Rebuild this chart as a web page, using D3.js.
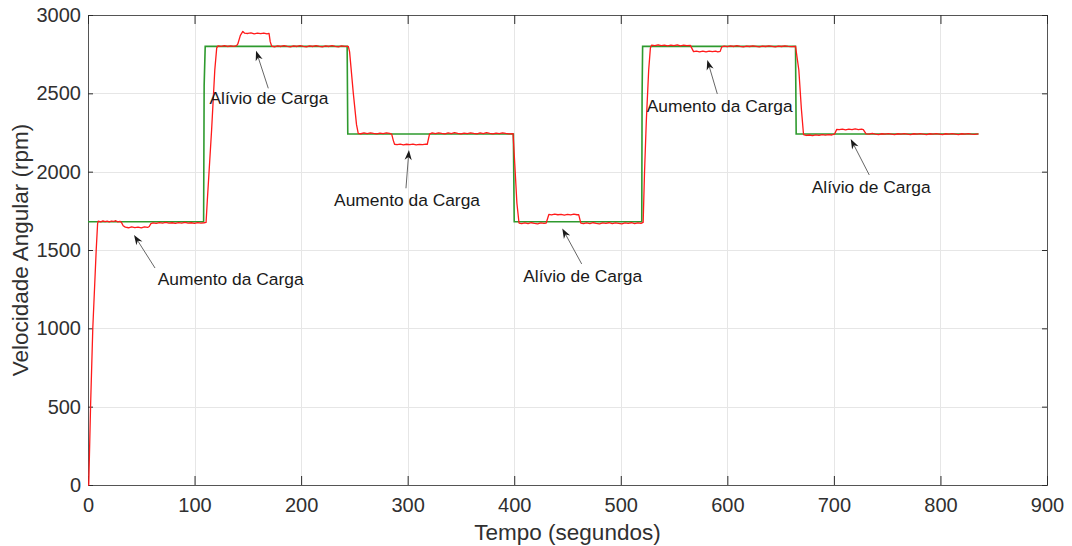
<!DOCTYPE html>
<html>
<head>
<meta charset="utf-8">
<script src="https://cdn.jsdelivr.net/npm/d3@7"></script>
<style>
  html, body { margin: 0; padding: 0; background: #fff; }
  svg { display: block; font-family: "Liberation Sans", Arial, Helvetica, sans-serif; }
</style>
</head>
<body>
<svg id="chart" width="1072" height="546"></svg>
<script>
// Axis ticks
const xTicks = [0, 100, 200, 300, 400, 500, 600, 700, 800, 900];
const yTicks = [0, 500, 1000, 1500, 2000, 2500, 3000];

// Reference speed (setpoint), [time s, rpm]
const referencia = [
  [0, 1680], [108.5, 1680], [109, 2550], [110, 2800],
  [243.2, 2800], [243.8, 2240],
  [399.2, 2240], [399.6, 1960], [400, 1680],
  [519.7, 1680], [520, 2480], [520.5, 2800],
  [664, 2800], [664.2, 2600], [664.6, 2240],
  [835.7, 2240]
];

// Measured speed, [time s, rpm]
const velocidade = [
  [0, 0], [0.7, 0], [2.4, 500], [4.5, 1000], [7.7, 1500], [9.0, 1668], [9.6, 1684],
  [12, 1680], [14, 1686], [16, 1681], [18, 1684], [20, 1679], [22, 1685], [24, 1682], [26, 1687], [28, 1680], [30, 1683],
  [31.5, 1675], [33, 1655], [35, 1646], [38, 1642], [41, 1648], [44, 1643], [47, 1646], [50, 1641], [53, 1647], [56, 1644], [57.5, 1650],
  [59, 1668], [61, 1673], [64, 1670], [67, 1675], [70, 1672], [73, 1676], [76, 1671], [79, 1674], [82, 1670], [85, 1675], [88, 1672],
  [91, 1676], [94, 1671], [97, 1674], [100, 1670], [103, 1675], [106, 1672], [109, 1674], [110.8, 1676],
  [112, 1819], [116, 2266], [119, 2650], [120.8, 2790], [122, 2803], [125, 2800], [128, 2805], [131, 2799], [134, 2803], [137, 2800], [139.5, 2804],
  [140.6, 2815], [143, 2870], [145.3, 2895], [147, 2884], [150, 2882], [153, 2886], [156, 2880], [159, 2884], [162, 2881], [165, 2885], [168, 2880], [169.9, 2883],
  [171, 2830], [172.4, 2801], [175, 2797], [178, 2803], [181, 2799], [184, 2805], [187, 2800], [190, 2796], [193, 2803], [196, 2799], [199, 2804],
  [202, 2800], [205, 2797], [208, 2803], [211, 2799], [214, 2805], [217, 2800], [220, 2797], [223, 2803], [226, 2799], [229, 2804], [232, 2800],
  [235, 2797], [238, 2803], [241, 2800], [244.3, 2800],
  [245.5, 2765], [249, 2500], [252, 2300], [253.6, 2245], [256, 2242], [259, 2247], [262, 2243], [265, 2248], [268, 2244], [271, 2241], [274, 2246],
  [277, 2243], [280, 2248], [283, 2244], [285, 2240],
  [286.5, 2200], [287.7, 2175], [290, 2172], [293, 2176], [296, 2171], [299, 2175], [302, 2172], [305, 2176], [308, 2171], [311, 2174], [314, 2172],
  [317, 2176], [318.4, 2175], [320.5, 2240], [323, 2247], [326, 2243], [329, 2248], [332, 2244], [335, 2241], [338, 2247], [341, 2243], [344, 2249],
  [347, 2244], [350, 2241], [353, 2246], [356, 2243], [359, 2248], [362, 2244], [365, 2241], [368, 2247], [371, 2243], [374, 2249], [377, 2244],
  [380, 2241], [383, 2246], [386, 2243], [389, 2248], [392, 2244], [395, 2241], [398.9, 2243],
  [400.5, 2050], [402.5, 1800], [404.5, 1672], [407, 1668], [410, 1673], [413, 1669], [416, 1674], [419, 1670], [422, 1667], [425, 1673], [428, 1670], [430, 1672],
  [432.5, 1727], [435, 1724], [438, 1729], [441, 1725], [444, 1728], [447, 1723], [450, 1727], [453, 1724], [456, 1729], [459, 1725], [460.5, 1726],
  [462.5, 1672], [465, 1668], [468, 1673], [471, 1669], [474, 1674], [477, 1670], [480, 1667], [483, 1673], [486, 1670], [489, 1674], [492, 1669],
  [495, 1673], [498, 1670], [501, 1667], [504, 1673], [507, 1670], [510, 1674], [513, 1669], [516, 1673], [519, 1670], [521, 1676],
  [522.3, 2000], [524, 2330], [526.2, 2650], [527.8, 2790], [529, 2808], [532, 2805], [535, 2810], [538, 2804], [541, 2808], [544, 2803], [547, 2807],
  [550, 2804], [553, 2809], [556, 2803], [559, 2807], [562, 2804], [565.3, 2806],
  [568.3, 2766], [571, 2770], [574, 2765], [577, 2769], [580, 2764], [583, 2770], [586, 2766], [589, 2769], [591, 2765], [593.3, 2768],
  [594.8, 2797], [597, 2801], [600, 2798], [603, 2803], [606, 2799], [609, 2804], [612, 2800], [615, 2797], [618, 2802], [621, 2799], [624, 2803],
  [627, 2800], [630, 2797], [633, 2802], [636, 2799], [639, 2803], [642, 2800], [645, 2797], [648, 2802], [651, 2799], [654, 2803], [657, 2800],
  [660, 2798], [664, 2800],
  [667.1, 2649], [669.5, 2400], [671.5, 2237], [674, 2231], [677, 2234], [680, 2230], [683, 2235], [686, 2232], [689, 2236], [692, 2233], [695, 2237],
  [698, 2234], [700.6, 2240],
  [702.7, 2270], [705, 2268], [708, 2272], [711, 2267], [714, 2271], [717, 2268], [720, 2273], [723, 2269], [726, 2271], [727.6, 2268],
  [730.2, 2241], [733, 2239], [736, 2244], [739, 2240], [742, 2237], [745, 2242], [748, 2239], [751, 2243], [754, 2240], [757, 2237], [760, 2242],
  [763, 2239], [766, 2243], [769, 2240], [772, 2237], [775, 2242], [778, 2239], [781, 2243], [784, 2240], [787, 2237], [790, 2242], [793, 2239],
  [796, 2243], [799, 2240], [802, 2237], [805, 2242], [808, 2239], [811, 2243], [814, 2240], [817, 2237], [820, 2242], [823, 2239], [826, 2243],
  [829, 2240], [832, 2238], [835.7, 2241]
];

// Load-change annotations: label, arrow tip, arrow tail, text anchor (data units)
const anotacoesTexto = ["Aumento da Carga", "Alívio de Carga", "Aumento da Carga", "Alívio de Carga", "Aumento da Carga", "Alívio de Carga"];
const anotacoesPonta = [[43.2, 1596], [157.7, 2772], [301.2, 2138], [445.1, 1638], [581.2, 2713], [715.8, 2209]];
const anotacoesCauda = [[62.9, 1385], [169.2, 2532], [298.4, 1894], [463.3, 1411], [590.6, 2496], [733.2, 1979]];
const anotacoesPos   = [[65.4, 1277], [114.0, 2430], [230.9, 1781], [408.5, 1298], [524.3, 2383], [679.2, 1862]];

const svg = d3.select("#chart");
const mLeft = 88, mRight = 1047, mTop = 15, mBottom = 485;

const x = d3.scaleLinear().domain([0, 900]).range([mLeft, mRight]);
const y = d3.scaleLinear().domain([0, 3000]).range([mBottom, mTop]);

const axisColor = "#2b2b2b";
const textColor = "#303030";

// Grid
const grid = svg.append("g");
grid.selectAll("line.gx").data(xTicks.slice(1, -1)).join("line")
  .attr("x1", d => Math.round(x(d)) + 0.5).attr("x2", d => Math.round(x(d)) + 0.5)
  .attr("y1", mTop).attr("y2", mBottom)
  .attr("stroke", "#e6e6e6").attr("stroke-width", 1);
grid.selectAll("line.gy").data(yTicks.slice(1, -1)).join("line")
  .attr("y1", d => Math.round(y(d)) + 0.5).attr("y2", d => Math.round(y(d)) + 0.5)
  .attr("x1", mLeft).attr("x2", mRight)
  .attr("stroke", "#e6e6e6").attr("stroke-width", 1);

// Axes (bottom/left with labels, top/right ticks only)
const fmt = d3.format("d");
const xAxis = d3.axisBottom(x).tickValues(xTicks).tickFormat(fmt).tickSizeInner(-9).tickSizeOuter(0).tickPadding(13);
const yAxis = d3.axisLeft(y).tickValues(yTicks).tickFormat(fmt).tickSizeInner(-5).tickSizeOuter(0).tickPadding(7);

function styleAxis(g) {
  g.select(".domain").remove();
  g.selectAll(".tick line").attr("stroke", axisColor).attr("stroke-width", 1);
  g.selectAll(".tick text").attr("fill", textColor).attr("font-size", 20)
    .attr("font-family", "Liberation Sans, Arial, sans-serif");
}

svg.append("g").attr("transform", `translate(0,${mBottom})`).call(xAxis).call(styleAxis);
svg.append("g").attr("transform", `translate(${mLeft},0)`).call(yAxis).call(styleAxis);
svg.append("g").attr("transform", `translate(0,${mTop})`)
  .call(d3.axisTop(x).tickValues(xTicks).tickSizeInner(-9).tickSizeOuter(0).tickFormat(""))
  .call(styleAxis);
svg.append("g").attr("transform", `translate(${mRight},0)`)
  .call(d3.axisRight(y).tickValues(yTicks).tickSizeInner(-5).tickSizeOuter(0).tickFormat(""))
  .call(styleAxis);

// Plot box
svg.append("rect")
  .attr("x", mLeft + 0.5).attr("y", mTop + 0.5)
  .attr("width", mRight - mLeft).attr("height", mBottom - mTop)
  .attr("fill", "none").attr("stroke", axisColor).attr("stroke-width", 1).attr("opacity", 0.8);

// Series
const line = d3.line().x(d => x(d[0])).y(d => y(d[1]));

svg.append("path").datum(referencia)
  .attr("d", line).attr("fill", "none")
  .attr("stroke", "#2e9a2e").attr("stroke-width", 1.6);

svg.append("path").datum(velocidade)
  .attr("d", line).attr("fill", "none")
  .attr("stroke", "#ff1a1a").attr("stroke-width", 1.3).attr("stroke-linejoin", "round");

// Annotations
const ann = svg.append("g");
anotacoesTexto.forEach((label, i) => {
  const [tx, ty] = [x(anotacoesCauda[i][0]), y(anotacoesCauda[i][1])];
  const [hx, hy] = [x(anotacoesPonta[i][0]), y(anotacoesPonta[i][1])];
  const ang = Math.atan2(hy - ty, hx - tx);
  const L = 10, W = 3.6, notch = 7;
  const cos = Math.cos(ang), sin = Math.sin(ang);
  const bx = hx - L * cos, by = hy - L * sin;
  const nx = hx - notch * cos, ny = hy - notch * sin;
  ann.append("line")
    .attr("x1", tx).attr("y1", ty).attr("x2", nx).attr("y2", ny)
    .attr("stroke", "#666").attr("stroke-width", 1);
  ann.append("path")
    .attr("d", `M${hx},${hy} L${bx - W * sin},${by + W * cos} L${nx},${ny} L${bx + W * sin},${by - W * cos} Z`)
    .attr("fill", "#1a1a1a");
  ann.append("text")
    .attr("x", x(anotacoesPos[i][0])).attr("y", y(anotacoesPos[i][1]))
    .attr("font-size", 17.4).attr("fill", "#1a1a1a")
    .text(label);
});

// Axis titles
svg.append("text")
  .attr("x", (mLeft + mRight) / 2).attr("y", 540)
  .attr("text-anchor", "middle").attr("font-size", 22.5).attr("fill", textColor)
  .text("Tempo (segundos)");
svg.append("text")
  .attr("transform", `translate(28,${(mTop + mBottom) / 2}) rotate(-90)`)
  .attr("text-anchor", "middle").attr("font-size", 22.5).attr("fill", textColor)
  .text("Velocidade Angular (rpm)");
</script>
</body>
</html>
